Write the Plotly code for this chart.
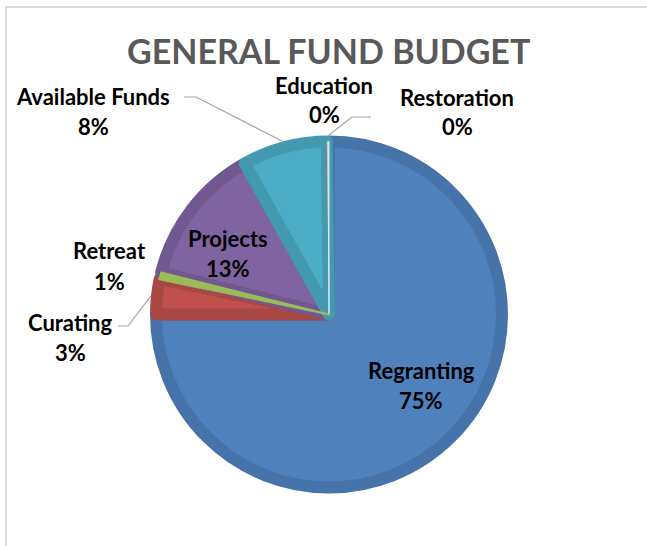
import math
import plotly.graph_objects as go

# ---- data ----
categories = ["Regranting", "Curating", "Retreat", "Projects", "Available Funds", "Education", "Restoration"]
values = [75.0, 3.3, 0.6, 13.0, 7.9, 0.1, 0.1]
fill_colors = ["#4F81BD", "#C0504D", "#9BBB59", "#8064A2", "#4BACC6", "#F79646", "#C6D9F1"]
edge_colors = ["#4673A9", "#A84744", "#9BBB59", "#715891", "#4399AF", "#F79646", "#DCE6F2"]
edge_widths = [12, 12, 3, 12, 12, 0, 1]
title_text = "GENERAL FUND BUDGET"

# ---- layout (pixels) ----
W, H = 647, 546
CX, CY, R = 329, 314.5, 179
FONT = "Lato"

# label positions (pixel centres of name line / pct line)
label_pos = {
    "Regranting": (421, 370, 400),
    "Curating": (70, 322, 352),
    "Retreat": (109, 251, 281),
    "Projects": (228, 238, 268),
    "Available Funds": (93, 96, 126),
    "Education": (324, 85, 114),
    "Restoration": (457, 97, 126),
}
# leader lines: label-side points, then connect to slice mid-angle on circle
leaders = {
    "Available Funds": [(184, 97), (196, 97)],
    "Curating": [(118, 326), (128, 326)],
    "Restoration": [(371, 117), (352, 117)],
}

def px(x):
    return x / W

def py(y):
    return 1 - y / H

r0 = R - max(edge_widths) / 2
dom = dict(x=[px(CX - r0), px(CX + r0)], y=[py(CY + r0), py(CY - r0)])
fig = go.Figure(go.Pie(
    labels=categories,
    values=values,
    sort=False,
    direction="clockwise",
    rotation=0,
    textinfo="none",
    hoverinfo="label+percent",
    marker=dict(colors=fill_colors, line=dict(color=edge_colors, width=edge_widths)),
    domain=dom,
    showlegend=False,
))
# redraw the thin Retreat slice on top so neighbouring borders don't hide it
top_colors = [c if n == "Retreat" else "rgba(0,0,0,0)" for n, c in zip(categories, fill_colors)]
top_widths = [2 if n == "Retreat" else 0 for n in categories]
fig.add_trace(go.Pie(
    labels=categories,
    values=values,
    sort=False,
    direction="clockwise",
    rotation=0,
    textinfo="none",
    hoverinfo="skip",
    marker=dict(colors=top_colors, line=dict(color=top_colors, width=top_widths)),
    domain=dom,
    showlegend=False,
))

total = sum(values)
annotations = []
for name, (lx, ly1, ly2) in label_pos.items():
    v = values[categories.index(name)]
    pct = f"{round(v / total * 100):.0f}%"
    for txt, yy in ((name, ly1), (pct, ly2)):
        annotations.append(dict(
            x=px(lx), y=py(yy), xref="paper", yref="paper", text=txt, showarrow=False,
            xanchor="center", yanchor="middle",
            font=dict(family=FONT, size=22, color="#000000", weight="bold"),
        ))

annotations.append(dict(
    x=px(328.5), y=py(50), xref="paper", yref="paper", text=title_text, showarrow=False,
    xanchor="center", yanchor="middle",
    font=dict(family=FONT, size=34, color="#595959", weight="bold"),
))

shapes = []
cum = 0.0
mids = {}
for name, v in zip(categories, values):
    mids[name] = (cum + v / 2) / total
    cum += v
for name, pts in leaders.items():
    th = 2 * math.pi * mids[name]
    ex, ey = CX + R * math.sin(th), CY - R * math.cos(th)
    allp = pts + [(ex, ey)]
    path = "M " + " L ".join(f"{px(a):.5f},{py(b):.5f}" for a, b in allp)
    shapes.append(dict(type="path", path=path, xref="paper", yref="paper",
                       line=dict(color="#A6A6A6", width=1.2)))

# chart frame
shapes.append(dict(type="line", xref="paper", yref="paper", x0=px(5), y0=py(7), x1=px(W), y1=py(7),
                   line=dict(color="#D9D9D9", width=2)))
shapes.append(dict(type="line", xref="paper", yref="paper", x0=px(6), y0=py(7), x1=px(6), y1=py(H),
                   line=dict(color="#D9D9D9", width=2)))

fig.update_layout(
    width=W, height=H, autosize=False,
    margin=dict(l=0, r=0, t=0, b=0),
    paper_bgcolor="#FFFFFF", plot_bgcolor="#FFFFFF",
    annotations=annotations, shapes=shapes,
)
fig.write_html(
    "out.html",
    config={"displayModeBar": False},
    post_script="document.body.style.margin='0';document.body.style.padding='0';document.body.style.overflow='hidden';",
)
